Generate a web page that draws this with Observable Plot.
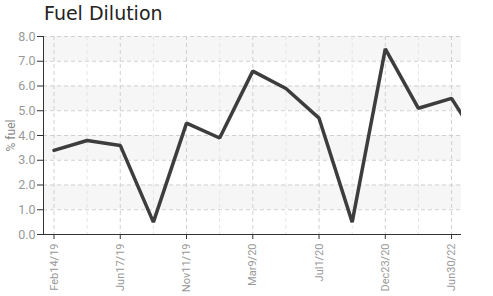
<!DOCTYPE html>
<html>
<head>
<meta charset="utf-8">
<script src="https://cdn.jsdelivr.net/npm/d3@7"></script>
<script src="https://cdn.jsdelivr.net/npm/@observablehq/plot@0.6"></script>
<style>
  html, body { margin: 0; padding: 0; background: #fff; }
  #wrap { position: relative; width: 493px; height: 296px; overflow: hidden; }
  #title { position: absolute; left: 44px; top: 2px; font-family: "DejaVu Sans", sans-serif; font-size: 19px; color: #222; }
  svg { display: block; }
</style>
</head>
<body>
<div id="wrap"><div id="title">Fuel Dilution</div><div id="chart"></div></div>
<script>
// sample index (evenly spaced categories)
const samples = [0, 1, 2, 3, 4, 5, 6, 7, 8, 9, 10, 11, 12, 13];
const fuelPct = [3.4, 3.8, 3.6, 0.5, 4.5, 3.9, 6.6, 5.9, 4.7, 0.5, 7.5, 5.1, 5.5, 3.4];
const labeledIdx = [0, 2, 4, 6, 8, 10, 12];
const tickLabels = ["Feb14/19", "Jun17/19", "Nov11/19", "Mar9/20", "Jul1/20", "Dec23/20", "Jun30/22"];
const yTicks = [0, 1, 2, 3, 4, 5, 6, 7, 8];
const bandLo = [7, 5, 3, 1];

const xDomain = [-0.317, 12.30];
const data = samples.map((s, i) => ({s, v: fuelPct[i]}));
const unlabeled = samples.filter(s => s <= 12 && !labeledIdx.includes(s));
const labelOf = new Map(labeledIdx.map((s, i) => [s, tickLabels[i]]));

const chart = Plot.plot({
  width: 493,
  height: 296,
  marginLeft: 43,
  marginRight: 32,
  marginTop: 36,
  marginBottom: 62,
  style: {fontFamily: "Roboto, sans-serif", fontSize: "12.5px", background: "transparent"},
  x: {type: "linear", domain: xDomain, axis: null},
  y: {domain: [0, 8], axis: null},
  marks: [
    Plot.rect(bandLo, {y1: d => d, y2: d => d + 1, fill: "#f6f6f6"}),
    Plot.ruleY(yTicks, {stroke: "#d0d0d0", strokeDasharray: "4,3"}),
    Plot.ruleX(unlabeled, {stroke: "#e6e6e6", strokeDasharray: "4,3"}),
    Plot.ruleX(labeledIdx, {stroke: "#d0d0d0", strokeDasharray: "4,3"}),
    Plot.line(data, {x: "s", y: "v", stroke: "#3d3d3d", strokeWidth: 3.5, clip: true, strokeLinejoin: "miter"}),
    Plot.axisY({ticks: yTicks, tickSize: 6, tickPadding: 2, tickFormat: d3.format(".1f"),
      stroke: "#333", fill: "#999", label: null}),
    Plot.axisY({ticks: [], label: "% fuel", labelAnchor: "center", labelArrow: "none", labelOffset: 37,
      fill: "#888", fontSize: 12}),
    Plot.axisX({ticks: labeledIdx, tickSize: 5, tickPadding: 4, tickRotate: -90, fontSize: 11,
      tickFormat: d => labelOf.get(d), stroke: "#333", fill: "#999", label: null}),
    Plot.ruleX([xDomain[0]], {y1: 0, y2: 8, stroke: "#333"}),
    Plot.ruleY([0], {stroke: "#333"})
  ]
});
document.getElementById("chart").appendChild(chart);
</script>
</body>
</html>
